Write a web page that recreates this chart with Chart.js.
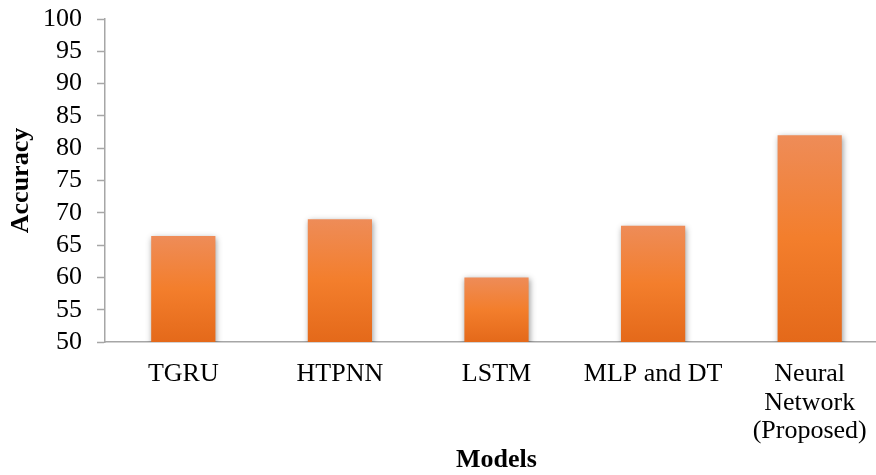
<!DOCTYPE html>
<html>
<head>
<meta charset="utf-8">
<script src="https://cdn.jsdelivr.net/npm/chart.js@4.4.1/dist/chart.umd.min.js"></script>
<style>
  html, body { margin: 0; padding: 0; background: #ffffff; overflow: hidden; }
  #wrap { width: 888px; height: 475px; position: relative; }
</style>
</head>
<body>
<div id="wrap"><canvas id="chart"></canvas></div>
<script>
// Model names (multi-line where the label wraps)
const models = ['TGRU', 'HTPNN', 'LSTM', 'MLP and DT', ['Neural', 'Network', '(Proposed)']];
// Accuracy per model
const accuracy = [66.4, 69, 60, 68, 82];
// Y axis range
const yMin = 50;
const yMax = 100;
const yStep = 5;

const serif = '"Liberation Serif", "Times New Roman", serif';

// Vertical orange gradient per bar, lighter at the top
function barGradient(context) {
  const chart = context.chart;
  const area = chart.chartArea;
  if (!area) return '#F37F2E';
  const v = context.raw;
  const yTop = chart.scales.y.getPixelForValue(v);
  const yBot = chart.scales.y.getPixelForValue(yMin);
  const g = chart.ctx.createLinearGradient(0, yTop, 0, yBot);
  g.addColorStop(0, '#EE8C58');
  g.addColorStop(0.5, '#F37E2C');
  g.addColorStop(1, '#E4691A');
  return g;
}

// Soft drop shadow under the bars
const barShadow = {
  id: 'barShadow',
  beforeDatasetsDraw(chart) {
    const ctx = chart.ctx;
    ctx.save();
    ctx.shadowColor = 'rgba(0,0,0,0.4)';
    ctx.shadowBlur = 6;
    ctx.shadowOffsetX = 1;
    ctx.shadowOffsetY = 2;
  },
  afterDatasetsDraw(chart) {
    chart.ctx.restore();
  }
};

new Chart(document.getElementById('chart'), {
  type: 'bar',
  data: {
    labels: models,
    datasets: [{
      data: accuracy,
      backgroundColor: barGradient,
      borderWidth: 0,
      barPercentage: 0.41,
      categoryPercentage: 1.0
    }]
  },
  plugins: [barShadow],
  options: {
    responsive: true,
    maintainAspectRatio: false,
    animation: false,
    layout: { padding: { top: 19, right: 0, bottom: 0, left: 0 } },
    plugins: {
      legend: { display: false },
      tooltip: { enabled: false }
    },
    scales: {
      x: {
        grid: { display: false, drawTicks: false },
        border: { display: true, color: '#A6A6A6', width: 1.5 },
        ticks: {
          color: '#000000',
          font: { family: serif, size: 26, lineHeight: 1.1 },
          padding: 18,
          maxRotation: 0,
          autoSkip: false
        },
        title: {
          display: true,
          text: 'Models',
          color: '#000000',
          font: { family: serif, size: 26, weight: 'bold', lineHeight: 1.1 },
          padding: { top: 0, bottom: 0 }
        },
        afterFit(scale) {
          scale.height = 133;
          scale.paddingLeft = 0;
          scale.paddingRight = 0;
        }
      },
      y: {
        min: yMin,
        max: yMax,
        grid: {
          display: true,
          drawOnChartArea: false,
          drawTicks: true,
          tickLength: 8,
          tickColor: '#A6A6A6',
          tickWidth: 1.5,
          color: '#A6A6A6'
        },
        border: { display: true, color: '#A6A6A6', width: 1.5 },
        ticks: {
          stepSize: yStep,
          autoSkip: false,
          color: '#000000',
          font: { family: serif, size: 26 },
          padding: 15
        },
        title: {
          display: true,
          text: 'Accuracy',
          color: '#000000',
          font: { family: serif, size: 26, weight: 'bold' },
          padding: { top: 6, bottom: 0 }
        },
        afterFit(scale) {
          scale.width = 105;
          scale.paddingTop = 0;
          scale.paddingBottom = 0;
        }
      }
    }
  }
});
</script>
</body>
</html>
